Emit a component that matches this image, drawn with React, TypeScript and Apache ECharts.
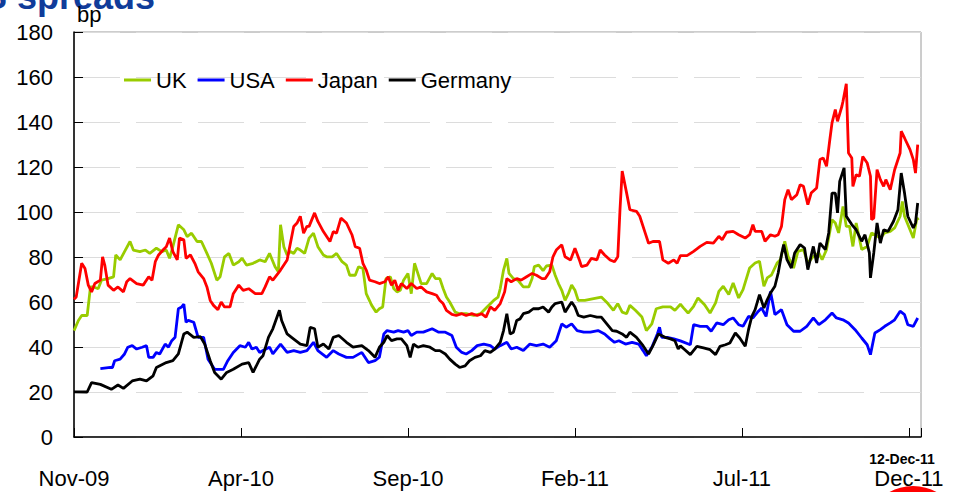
import React, { useEffect, useRef } from "react";
import * as echarts from "echarts";

// x = days since 1-Nov-2009, y = spread in bp
const seriesNames = ["UK", "USA", "Japan", "Germany"];
const seriesColors = ["#99cc00", "#0000ff", "#ff0000", "#000000"];

const ukData: [number, number][] = [
  [0,47.3],[4,51.8],[7,54],[12,54],[15,66.7],[18,66.7],[22,65.9],[25,69.7],[31,70.4],[36,71.2],[38,80.9],[42,78.7],[46,82.4],[51,86.9],[54,83.1],[60,82.4],[65,83.1],[69,81.6],[75,83.9],[80,82.4],[84,83.1],[87,79.4],[90,84.6],[95,94.3],[100,92.1],[103,89.1],[107,90.6],[112,86.9],[116,86.9],[121,81.6],[125,77.2],[130,69.7],[133,71.2],[137,80.1],[141,81.6],[145,76.4],[150,77.9],[153,79.4],[157,76.4],[163,77.2],[169,78.7],[174,77.9],[178,81.6],[183,75.7],[186,73.4],[188,94.3],[191,84.6],[194,80.9],[197,82.4],[200,81.6],[203,83.9],[206,83.1],[210,81.6],[214,88.4],[218,90.6],[222,84.6],[227,80.9],[230,80.1],[235,80.1],[239,81.6],[244,77.9],[248,76.4],[251,71.9],[256,71.9],[259,75.7],[263,74.9],[266,63.7],[271,58.5],[275,55.5],[278,57],
  [281,57.8],[284,70.4],[288,71.2],[291,66],[294,64.5],[297,65.2],[300,69.7],[304,72.7],[307,63.7],[310,77.2],[313,72.7],[316,68.2],[321,68.2],[326,72.7],[329,70.4],[333,70.4],[336,66],[339,62.2],[342,60],[347,55.5],[351,54.8],[357,54.8],[364,54],[370,54.8],[376,57.8],[382,60.7],[386,62.2],[388,66],[391,74.2],[394,79.4],[396,72.7],[400,70.4],[404,69.7],[409,66.7],[414,66.7],[417,70.4],[419,75.7],[423,76.4],[427,73.9],[430,76],[435,76.4],[438,71.9],[441,68.2],[444,65.2],[447,60.7],[450,63.7],[453,67.5],[456,65.2],[459,60.7],[465,60.7],[473,61.5],[480,62.2],[486,59.3],[491,56.3],[495,59.3],[499,55.5],[503,54.8],[506,58.5],[511,56.3],[517,53.3],[521,47.3],[526,50.3],[530,57],[536,57.8],[543,57.8],[547,56.3],[552,59],
  [555,57.3],[559,55.1],[564,58.1],[568,61.8],[574,58.8],[579,55.1],[584,59.6],[587,64.7],[591,67],[596,63.3],[600,68.4],[605,61.8],[609,65.5],[615,75.1],[620,77.3],[624,78.1],[628,67],[631,70.7],[635,72.1],[640,77.3],[643,78.8],[647,87],[650,80.3],[655,75.1],[659,82.5],[664,83.3],[668,77.3],[673,80.3],[678,81.8],[681,78.8],[685,83.3],[690,96.6],[693,95.1],[696,90.7],[700,102.5],[703,93.6],[706,93.6],[709,84.7],[712,95.1],[717,83.3],[722,84.7],[726,90.7],[729,89.9],[734,88.4],[738,90.7],[743,91.4],[747,92.9],[752,98.1],[754,104.7],[756,98.1],[761,92.1],[764,88.4],[767,96.6],[769,97.3]
];

const usaData: [number, number][] = [
  [24,30.4],[33,30.9],[35,30.9],[37,33.9],[42,34.6],[46,36.9],[49,39.9],[53,40.6],[57,39.1],[62,39.9],[66,40.6],[68,35.4],[72,35.4],[75,37.6],[78,36.9],[83,41.3],[86,39.9],[89,42.8],[92,44.3],[95,57],[98,57.8],[100,59],[102,51],[104,51.8],[109,51],[113,44.3],[118,44.3],[122,34.6],[128,30.1],[136,30.1],[140,33.9],[145,37.6],[151,40.6],[156,39.9],[159,42.1],[162,39.1],[166,39.9],[169,37.6],[172,38.4],[178,39.9],[181,36.9],[188,41.3],[194,37.6],[200,38.4],[206,37.6],[212,38.4],[218,42.1],[222,38.4],[230,35.4],[236,38.4],[241,36.9],[248,35.4],[254,35.4],[262,37.6],[268,33.1],[274,33.9],[278,35.5],
  [282,45.8],[285,47.3],[291,46.6],[295,47.3],[300,46.6],[304,47.3],[307,45.1],[312,46.6],[318,46.6],[326,48.1],[332,46.6],[338,46.6],[344,45.1],[348,39.9],[353,37.6],[357,36.9],[362,38.4],[367,40.6],[373,41.3],[379,40.6],[383,39.1],[388,40.6],[394,42.1],[398,39.1],[403,39.9],[409,38.4],[415,41.3],[421,40.6],[427,41.3],[433,39.9],[439,42.8],[444,50.3],[448,48.8],[453,50.3],[458,47.3],[464,46.6],[470,46.6],[477,47.3],[483,45.8],[488,43.6],[492,42.1],[496,42.8],[502,41.3],[508,42.1],[514,41.3],[518,38.4],[521,36.1],[526,39.9],[531,45.8],[533,48.8],[535,44.3],[540,44.3],[546,43.6],[552,42.7],
  [561,41],[564,49.9],[570,49.2],[576,49.2],[580,47],[585,50.7],[591,49.9],[596,52.1],[600,52.9],[605,49.9],[609,49.2],[614,53.6],[618,52.9],[623,55.9],[626,57.3],[630,53.6],[634,64.7],[638,54.4],[644,56.6],[649,49.9],[655,47],[661,47],[667,49.2],[673,52.9],[678,49.9],[684,52.1],[690,55.1],[694,52.9],[700,52.1],[705,50.7],[711,47.7],[717,44],[722,41],[725,36.6],[729,46.2],[734,47.7],[738,49.2],[743,50.7],[747,52.1],[752,55.9],[756,54.4],[759,49.9],[764,49.2],[768,52.9]
];

const japanData: [number, number][] = [
  [0,61.2],[2,62.2],[7,77.2],[10,74.9],[13,67.5],[16,64.5],[19,68.2],[24,69.7],[26,80.1],[28,76.4],[31,67.5],[36,65.2],[40,66.7],[45,64.5],[48,69],[51,70.4],[57,68.2],[63,67.5],[68,71.2],[71,69.7],[74,77.9],[77,80.9],[81,83.1],[84,84.6],[87,88.4],[90,82.4],[94,78.7],[96,88.4],[100,87.6],[102,79.4],[106,80.9],[110,77.2],[113,73.4],[118,70.4],[121,66.7],[124,60.7],[127,58.5],[131,56.6],[134,60],[137,57.8],[142,57.8],[145,63.7],[150,67.5],[154,65.2],[159,65.9],[165,63.7],[171,63.7],[174,66.7],[178,71.2],[181,69.7],[188,74.2],[194,78.7],[200,93.6],[203,95.1],[206,98.1],[209,90.6],[212,93.6],[214,93.6],[219,99.6],[222,95.8],[227,91.3],[230,89.1],[233,86.9],[236,91.3],[239,90.6],[243,97.3],[248,95.1],[253,89.9],[256,84.6],[260,83.9],[263,77.2],[266,74.2],[269,69.7],[274,69],[278,68.2],
  [283,69],[286,71.2],[289,67.5],[292,69.7],[295,65.2],[298,68.2],[303,66],[307,68.2],[312,66],[316,66.7],[321,64.5],[326,63.7],[330,63],[333,60.7],[336,59.3],[339,56.3],[344,54.5],[348,54],[353,54.8],[357,54],[362,54.8],[367,54],[371,54.8],[375,53.3],[379,57.8],[383,56.3],[388,59.3],[392,64.5],[394,70.4],[398,69],[403,70.4],[407,69.7],[412,71.2],[417,72.7],[421,71.9],[426,70.4],[429,70.4],[433,73.4],[436,80.1],[439,83.1],[444,85.4],[447,80.1],[452,78.7],[456,83.9],[460,78.7],[462,75.7],[467,76.4],[471,79.4],[476,78.7],[479,83.1],[483,80.9],[488,78.7],[492,77.9],[495,80.1],[497,101],[499,118.2],[503,108.5],[506,101],[512,100.3],[515,98.1],[520,90.6],[523,86.1],[527,86.9],[533,86.9],[536,78.7],[541,77.2],[546,78.7],[549,77.2],[552,80.6],
  [558,80.6],[564,82.5],[570,84.7],[576,86.5],[582,86.2],[587,89.2],[590,87.7],[594,91],[600,91.4],[605,89.9],[611,88.4],[615,89.9],[618,94.4],[620,91.4],[626,91.4],[629,87],[634,89.9],[638,89.2],[641,89.9],[644,93.6],[647,105.5],[650,109.9],[653,105.5],[658,107.7],[661,112.1],[664,111.4],[668,103.3],[671,108.4],[676,110.7],[679,123.3],[682,124],[685,120.3],[688,132.1],[690,139.6],[693,145.5],[695,140.3],[699,147],[700,149.2],[703,157],[705,126.2],[708,124],[709,111.4],[712,116.6],[715,115.9],[718,124.7],[722,121.8],[725,115.9],[726,96.6],[728,97.3],[731,118.8],[734,114.4],[737,111.4],[739,114.4],[743,109.9],[747,118.8],[752,126.2],[753,135.9],[756,132.9],[761,127.7],[764,123.3],[766,117.3],[768,129.9]
];

const germanyData: [number, number][] = [
  [0,20.1],[12,20],[16,24.2],[24,23.4],[34,21.2],[40,23.1],[45,21.6],[53,24.9],[60,25.7],[66,24.9],[72,27.2],[75,30.9],[84,33.1],[90,33.9],[95,36.9],[100,45.8],[103,46.6],[109,44.3],[115,44.6],[119,41.3],[124,33.9],[128,28.7],[134,25.7],[139,28.7],[145,30.1],[153,32.4],[159,33.1],[163,28.7],[169,34.6],[172,36.1],[177,44.3],[181,48.1],[187,56.3],[189,51.8],[194,45.8],[198,44.3],[206,41.3],[212,40.6],[215,48.8],[219,48.1],[222,39.9],[227,41.3],[232,39.1],[236,44.3],[241,45.1],[248,42.1],[254,39.9],[262,40.6],[268,38.4],[274,35.4],[278,39.9],
  [282,42.1],[285,45.1],[289,42.8],[294,43.6],[298,43.6],[303,40.6],[306,35.4],[309,41.3],[313,39.9],[318,40.6],[324,39.9],[329,38.4],[333,38.4],[338,36.9],[342,34.6],[347,32.4],[351,30.9],[356,31.6],[360,33.9],[365,35.4],[370,36.1],[374,38.4],[379,37.6],[383,39.1],[388,42.1],[391,47.3],[394,54.8],[397,45.8],[400,46.6],[403,51.8],[406,52.5],[409,54.8],[414,55.5],[418,57],[423,57],[427,57.8],[432,55.5],[435,57.8],[438,59.3],[444,60],[447,55.5],[450,57.8],[453,60],[456,57.8],[459,54],[464,53.3],[470,54],[476,53.3],[480,53.3],[485,50.3],[490,47.3],[494,47],[499,45.8],[503,44.3],[506,46.6],[512,44.3],[518,40.6],[523,36.9],[527,40.6],[532,45.8],[538,44.3],[543,43.6],[547,42.8],[550,39.1],[552,40.5],
  [556,38.8],[561,36.6],[567,40.3],[573,39.6],[579,38.8],[584,36.6],[588,40.3],[593,41],[597,41.8],[602,46.2],[606,44],[611,40.3],[614,47.7],[617,53.6],[620,56.6],[624,63.3],[628,57.3],[631,61],[634,64],[638,67],[641,72.9],[644,81],[646,85.5],[649,78.8],[653,75.1],[656,81.8],[661,85.5],[665,84],[668,74.4],[673,84.7],[676,77.3],[679,86.2],[684,83.3],[687,90.7],[690,108.4],[693,108.4],[695,99.6],[697,113.6],[701,119.6],[703,98.1],[708,94.4],[712,92.1],[717,87],[720,89.9],[724,81.8],[725,70.7],[728,81.8],[731,95.1],[734,86.2],[737,92.1],[741,91.4],[746,95.9],[750,101],[753,117.3],[756,108.4],[759,98.1],[764,92.9],[766,95.1],[768,104]
];

const seriesData = [ukData, usaData, japanData, germanyData];

// x-axis tick labels (days since 1-Nov-2009)
const tickDays = [0, 152, 304, 456, 608, 760];
const tickLabels = ["Nov-09", "Apr-10", "Sep-10", "Feb-11", "Jul-11", "Dec-11"];
const xMaxDay = 771; // 12-Dec-11
const lastDateLabel = "12-Dec-11";
const titleText = "CDS spreads";
const unitLabel = "bp";

const FONT = '"Liberation Sans", Arial, sans-serif';

export default function App() {
  const ref = useRef<HTMLDivElement>(null);
  useEffect(() => {
    if (!ref.current) return;
    const chart = echarts.init(ref.current, undefined, { renderer: "svg" });
    chart.setOption({
      animation: false,
      backgroundColor: "#ffffff",
      grid: {
        left: 74,
        right: 34,
        top: 32,
        bottom: 55,
        show: true,
        borderColor: "#9a9a9a",
        borderWidth: 1,
      },
      legend: {
        data: seriesNames,
        left: 119,
        top: 64,
        icon: "rect",
        itemWidth: 27,
        itemHeight: 3,
        itemGap: 11,
        textStyle: { fontFamily: FONT, fontSize: 22, color: "#000" },
      },
      xAxis: {
        type: "value",
        min: 0,
        max: xMaxDay,
        interval: 152,
        axisLine: { lineStyle: { color: "#000", width: 1.5 } },
        axisTick: { inside: true, length: 9, lineStyle: { color: "#000" } },
        splitLine: { show: false },
        axisLabel: {
          margin: 30,
          fontFamily: FONT,
          fontSize: 22,
          color: "#000",
          formatter: (v: number) => {
            const i = tickDays.indexOf(Math.round(v));
            return i >= 0 ? tickLabels[i] : "";
          },
        },
      },
      yAxis: {
        type: "value",
        min: 0,
        max: 180,
        interval: 20,
        axisLine: { show: true, lineStyle: { color: "#000", width: 1.5 } },
        axisTick: { show: true, inside: true, length: 9, lineStyle: { color: "#000" } },
        splitLine: {
          show: true,
          lineStyle: { color: "#dcdcdc", width: 1, type: [46, 16] },
        },
        axisLabel: {
          margin: 21,
          fontFamily: FONT,
          fontSize: 22,
          color: "#000",
        },
      },
      series: seriesNames.map((name, i) => ({
        name,
        type: "line",
        data: seriesData[i],
        showSymbol: false,
        symbol: "none",
        lineStyle: { color: seriesColors[i], width: 2.8 },
        itemStyle: { color: seriesColors[i] },
        z: 2 + i,
      })),
      graphic: [
        {
          type: "text",
          right: 800,
          top: -22,
          style: {
            text: titleText,
            font: 'bold 36px "Liberation Sans", Arial, sans-serif',
            fill: "#103c9a",
          },
        },
        {
          type: "text",
          left: 77,
          top: 3,
          style: { text: unitLabel, font: "22px " + FONT, fill: "#000" },
        },
        {
          type: "text",
          x: 902,
          y: 459,
          style: {
            text: lastDateLabel,
            font: 'bold 14px "Liberation Sans", Arial, sans-serif',
            fill: "#000",
            align: "center",
            verticalAlign: "middle",
          },
        },
        {
          type: "circle",
          shape: { cx: 913, cy: 535, r: 49 },
          style: { fill: "#ff0000" },
          z: 0,
        },
      ],
    });
    return () => chart.dispose();
  }, []);
  return (
    <div
      ref={ref}
      style={{ position: "fixed", left: 0, top: 0, width: 955, height: 492, background: "#fff" }}
    />
  );
}
